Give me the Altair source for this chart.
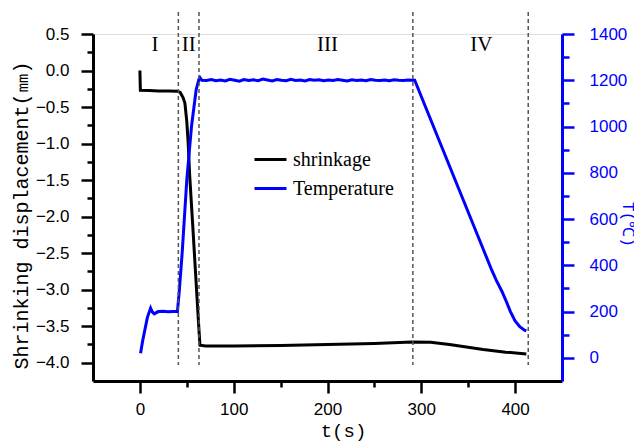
import altair as alt
import pandas as pd

# ---- data ----
shr_t = [0, 0.5, 10, 20, 30, 40, 43, 46, 48, 50, 51.5, 53, 56, 59, 62, 64,
         70, 100, 150, 200, 250, 290, 310, 330, 366, 390, 412]
shr_v = [0.0, -0.27, -0.275, -0.28, -0.28, -0.285, -0.3, -0.37, -0.45, -0.7, -1.0,
         -1.42, -2.05, -2.7, -3.35, -3.76, -3.77, -3.77, -3.765, -3.75, -3.735,
         -3.715, -3.72, -3.75, -3.82, -3.855, -3.88]

temp_t = [0.7, 3, 5.3, 8, 11.4, 13, 15.3, 19.5, 25, 30, 35, 40,
          42, 45, 50, 55, 60, 63, 64, 66,
          71, 76, 81, 86, 91, 96, 101, 106, 111, 116,
          121, 126, 131, 136, 141, 146, 151, 156, 161, 166,
          171, 176, 181, 186, 191, 196, 201, 206, 211, 216,
          221, 226, 231, 236, 241, 246, 251, 256, 261, 266,
          271, 276, 281, 286, 291,
          293, 300, 320, 340, 360, 375, 380, 386, 390, 395, 400, 405, 410, 412]
temp_v = [20, 75, 121, 175, 215, 200, 190, 200, 201, 199, 200, 200,
          290, 450, 770, 1000, 1160, 1205, 1212, 1200,
          1199, 1203, 1198, 1201, 1197, 1204, 1200, 1196, 1203, 1199,
          1202, 1198, 1205, 1201, 1197, 1203, 1200, 1198, 1204, 1199,
          1201, 1197, 1203, 1200, 1202, 1198, 1201, 1199, 1203, 1200,
          1197, 1202, 1199, 1201, 1198, 1203, 1200, 1199, 1201, 1198,
          1202, 1200, 1199, 1201, 1200,
          1200, 1130, 930, 730, 530, 380, 335, 287, 250, 200, 160, 135, 120, 117]

series_names = ["shrinkage", "Temperature"]
series_colors = ["black", "#0000FF"]

stage_t = [41, 63, 291, 414]
stage_top = [0.80, 0.80, 0.80, 0.80]
stage_bottom = [-4.03, -4.03, -4.03, -4.03]

roman_labels = ["I", "II", "III", "IV"]
roman_t = [16, 52, 200, 364]
roman_y = [0.35, 0.35, 0.35, 0.35]

x_ticks = [0, 50, 100, 150, 200, 250, 300, 350, 400]
left_ticks = [-4.0, -3.75, -3.5, -3.25, -3.0, -2.75, -2.5, -2.25, -2.0, -1.75,
              -1.5, -1.25, -1.0, -0.75, -0.5, -0.25, 0.0, 0.25, 0.5]
right_ticks = [0, 100, 200, 300, 400, 500, 600, 700, 800, 900, 1000, 1100,
               1200, 1300, 1400]

x_domain = [-50, 450]
left_domain = [-4.25, 0.5]
right_domain = [-100, 1400]

# ---- tables ----
shr_df = pd.DataFrame({"t": shr_t, "v": shr_v, "series": series_names[0]})
temp_df = pd.DataFrame({"t": temp_t, "v": temp_v, "series": series_names[1]})
stage_df = pd.DataFrame({"t": stage_t, "y1": stage_top, "y2": stage_bottom})
roman_df = pd.DataFrame({"t": roman_t, "y": roman_y, "label": roman_labels})

x_axis = alt.Axis(
    values=x_ticks, grid=False,
    labelExpr="datum.value % 100 === 0 ? datum.label : ''",
    tickSize={"condition": {"test": "datum.value % 100 === 0", "value": 12}, "value": 6},
    tickWidth=2.5, tickColor="black", domainWidth=3, domainColor="black",
    labelFont="Liberation Sans", labelFontSize=17, labelColor="black",
    labelPadding=8, labelFlush=False,
    title="t(s)", titleFont="Liberation Mono", titleFontSize=19,
    titleFontWeight="normal", titleColor="black", titlePadding=4, titleX=250,
)
x_enc = alt.X("t:Q", scale=alt.Scale(domain=x_domain, nice=False, zero=False), axis=x_axis)

major_left = "abs(datum.value*2 - round(datum.value*2)) < 0.000001"
left_axis = alt.Axis(
    orient="left", values=left_ticks, grid=False, format=".1f",
    labelExpr=f"{major_left} ? datum.label : ''",
    tickSize={"condition": {"test": major_left, "value": 12}, "value": 6},
    tickWidth=2.5, tickColor="black", domainWidth=3, domainColor="black",
    labelFont="Liberation Sans", labelFontSize=17, labelColor="black",
    labelPadding=12, labelFlush=False,
    title="Shrinking displacement(㎜)", titleFont="Liberation Mono",
    titleFontSize=20, titleFontWeight="normal", titleColor="black",
    titlePadding=4, titleY=181,
)
right_axis = alt.Axis(
    orient="right", values=right_ticks, grid=False, format="d",
    labelExpr="datum.value % 200 === 0 ? datum.label : ''",
    tickSize={"condition": {"test": "datum.value % 200 === 0", "value": 12}, "value": 7},
    tickWidth=2.5, tickColor="#0000FF", domainWidth=3, domainColor="#0000FF",
    labelFont="Liberation Sans", labelFontSize=17, labelColor="#0000FF",
    labelPadding=15, labelFlush=False,
    title="T(℃)", titleFont="Liberation Mono", titleFontSize=16,
    titleFontWeight="normal", titleColor="#0000FF",
    titleX=65, titleY=190, titleAngle=90, titleBaseline="middle", titleAlign="center",
)

color_enc = alt.Color(
    "series:N",
    scale=alt.Scale(domain=series_names, range=series_colors),
    legend=alt.Legend(
        title=None, orient="none", legendX=160, legendY=108,
        symbolType="stroke", symbolSize=1024, symbolStrokeWidth=3,
        labelFont="Liberation Serif", labelFontSize=20, labelColor="black",
        labelOffset=5, rowPadding=1, padding=0,
    ),
)

rules = alt.Chart(stage_df).mark_rule(
    color="#555555", strokeDash=[4, 3], strokeWidth=1.5
).encode(
    x=x_enc,
    y=alt.Y("y1:Q", scale=alt.Scale(domain=left_domain, nice=False, zero=False), axis=None),
    y2="y2:Q",
)

shr_line = alt.Chart(shr_df).mark_line(strokeWidth=3).encode(
    x=x_enc,
    y=alt.Y("v:Q", scale=alt.Scale(domain=left_domain, nice=False, zero=False), axis=left_axis),
    color=color_enc,
)

temp_line = alt.Chart(temp_df).mark_line(strokeWidth=3).encode(
    x=x_enc,
    y=alt.Y("v:Q", scale=alt.Scale(domain=right_domain, nice=False, zero=False), axis=right_axis),
    color=color_enc,
)

romans = alt.Chart(roman_df).mark_text(
    font="Liberation Serif", fontSize=21, color="black", baseline="middle", align="center"
).encode(
    x=x_enc,
    y=alt.Y("y:Q", scale=alt.Scale(domain=left_domain, nice=False, zero=False), axis=None),
    text="label:N",
)

chart = alt.layer(shr_line, temp_line, rules, romans).resolve_scale(
    y="independent"
).properties(
    width=469, height=347,
    autosize=alt.AutoSizeParams(type="none"),
    padding={"left": 85, "top": 26, "right": 72, "bottom": 60},
).configure_view(stroke=None).configure(background="white")

chart.save("out.html", embed_options={"renderer": "svg", "actions": False})
